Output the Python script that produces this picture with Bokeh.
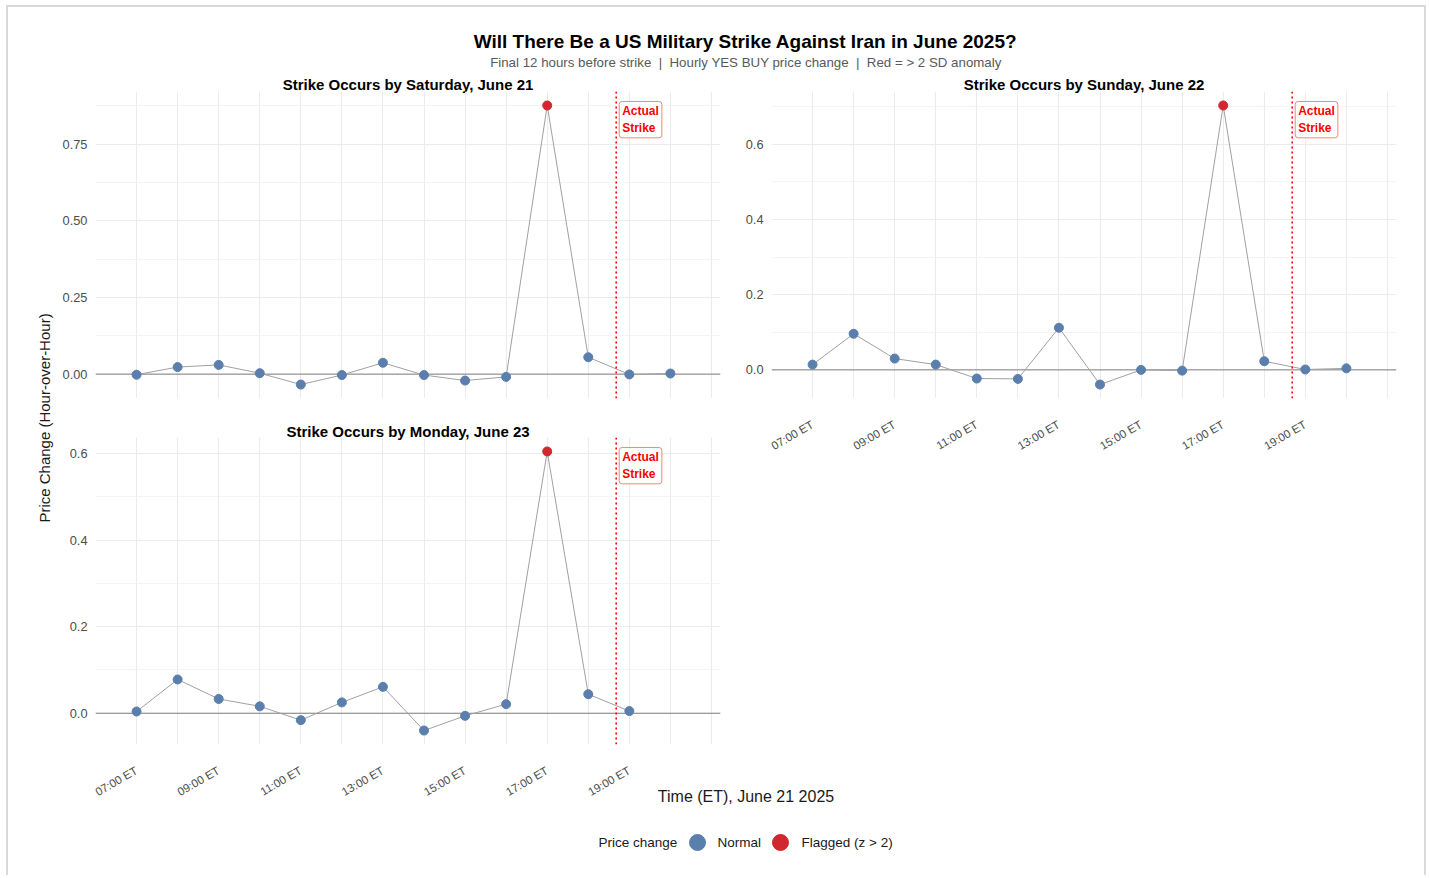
import math
import numpy as np
from bokeh.plotting import figure
from bokeh.models import Range1d, FixedTicker, Span, PrintfTickFormatter, ColumnDataSource
from bokeh.layouts import column, row
from bokeh.embed import file_html
from bokeh.resources import INLINE
from bokeh.core.properties import value

FONT = "Liberation Sans"

# ---------------- data ----------------
TITLE = "Will There Be a US Military Strike Against Iran in June 2025?"
SUBTITLE = "Final 12 hours before strike \u00a0|\u00a0 Hourly YES BUY price change \u00a0|\u00a0 Red = > 2 SD anomaly"
X_LABEL = "Time (ET), June 21 2025"
Y_LABEL = "Price Change (Hour-over-Hour)"
LEGEND_TITLE = "Price change"
LEGEND_LABELS = ["Normal", "Flagged (z > 2)"]
PANEL_TITLES = ["Strike Occurs by Saturday, June 21",
                "Strike Occurs by Sunday, June 22",
                "Strike Occurs by Monday, June 23"]

HOURS_SAT = [7, 8, 9, 10, 11, 12, 13, 14, 15, 16, 17, 18, 19, 20]
VALS_SAT = [-0.002, 0.023, 0.030, 0.003, -0.034, -0.003, 0.037, -0.003, -0.021, -0.009, 0.876, 0.055, -0.001, 0.002]

HOURS_SUN = [7, 8, 9, 10, 11, 12, 13, 14, 15, 16, 17, 18, 19, 20]
VALS_SUN = [0.014, 0.096, 0.030, 0.014, -0.023, -0.024, 0.112, -0.039, 0.000, -0.002, 0.703, 0.023, 0.001, 0.004]

HOURS_MON = [7, 8, 9, 10, 11, 12, 13, 14, 15, 16, 17, 18, 19]
VALS_MON = [0.004, 0.078, 0.033, 0.016, -0.016, 0.025, 0.061, -0.040, -0.006, 0.021, 0.605, 0.044, 0.005]

STRIKE_HOUR = 18.68
STRIKE_LABEL = "Actual\nStrike"

X_MAJOR = [7, 9, 11, 13, 15, 17, 19]
X_TICK_LABELS = ["07:00 ET", "09:00 ET", "11:00 ET", "13:00 ET", "15:00 ET", "17:00 ET", "19:00 ET"]
X_MINOR = [6, 8, 10, 12, 14, 16, 18, 20, 21]
X_LIMITS = (6.0, 21.22)

Y_TICKS_SAT = [0.0, 0.25, 0.5, 0.75]
Y_MINOR_SAT = [0.125, 0.375, 0.625, 0.875]
Y_TICKS_SUNMON = [0.0, 0.2, 0.4, 0.6]
Y_MINOR_SUNMON = [0.1, 0.3, 0.5, 0.7]

BLUE = "#5B7FAD"
RED = "#D1282F"
GRID = "#EBEBEB"
TICK_TXT = "#4D4D4D"


def make_panel(hours, vals, yticks, yminor, fmt, width, height, mbl, mbr, mbb, show_x):
    v = np.array(vals, dtype=float)
    z = (v - v.mean()) / v.std(ddof=1)
    colors = [RED if abs(zz) > 2 else BLUE for zz in z]
    lo, hi = float(v.min()), float(v.max())
    pad = 0.05 * (hi - lo)
    p = figure(width=width, height=height, output_backend="svg", toolbar_location=None,
               x_range=Range1d(*X_LIMITS), y_range=Range1d(lo - pad, hi + pad),
               min_border_left=mbl, min_border_right=mbr, min_border_top=0,
               min_border_bottom=mbb)
    p.outline_line_color = None
    p.background_fill_color = None
    p.border_fill_color = None

    p.xgrid.ticker = FixedTicker(ticks=X_MAJOR, minor_ticks=X_MINOR)
    p.xgrid.grid_line_color = GRID
    p.xgrid.grid_line_width = 1.1
    p.xgrid.minor_grid_line_color = GRID
    p.xgrid.minor_grid_line_width = 1.1
    p.ygrid.ticker = FixedTicker(ticks=yticks, minor_ticks=yminor)
    p.ygrid.grid_line_color = GRID
    p.ygrid.grid_line_width = 1.1
    p.ygrid.minor_grid_line_color = "#F1F1F1"
    p.ygrid.minor_grid_line_width = 0.8

    p.yaxis.ticker = FixedTicker(ticks=yticks)
    p.yaxis.formatter = PrintfTickFormatter(format=fmt)
    for ax in (p.xaxis[0], p.yaxis[0]):
        ax.axis_line_color = None
        ax.major_tick_line_color = None
        ax.minor_tick_line_color = None
        ax.major_tick_out = 0
        ax.major_tick_in = 0
        ax.minor_tick_out = 0
        ax.minor_tick_in = 0
        ax.major_label_text_color = TICK_TXT
        ax.major_label_text_font = FONT
    p.yaxis.major_label_text_font_size = "12.8px"
    p.yaxis.major_label_standoff = 8

    if show_x:
        p.xaxis.ticker = FixedTicker(ticks=X_MAJOR)
        p.xaxis.major_label_overrides = {h: lab for h, lab in zip(X_MAJOR, X_TICK_LABELS)}
        p.xaxis.major_label_orientation = math.pi / 6
        p.xaxis.major_label_text_font_size = "11.5px"
        p.xaxis.major_label_standoff = 25
    else:
        p.xaxis.visible = False

    p.add_layout(Span(location=0, dimension="width", line_color="#7F7F7F",
                      line_width=1, level="underlay"))
    src = ColumnDataSource(dict(x=hours, y=vals, c=colors))
    p.line("x", "y", source=src, line_color="#A0A0A0", line_width=1)
    p.scatter("x", "y", source=src, size=9, fill_color="c", line_color="c")
    p.add_layout(Span(location=STRIKE_HOUR, dimension="height", line_color="#FF0000",
                      line_width=1.6, line_dash="2 3"))
    p.text(x=[STRIKE_HOUR], y=[hi], text=[STRIKE_LABEL], anchor="top_left",
           x_offset=3, y_offset=-4, text_color="#FF0000", text_font=value(FONT),
           text_font_style="bold", text_font_size="12px", text_line_height=1.17,
           border_line_color="#FF8080", border_line_width=1,
           background_fill_color="white", padding=3, border_radius=3)
    return p


def canvas_fig(w, h, mbl=0, mbr=0):
    p = figure(width=w, height=h, x_range=Range1d(0, w - mbl - mbr), y_range=Range1d(0, h),
               output_backend="svg", toolbar_location=None, min_border=0,
               min_border_left=mbl, min_border_right=mbr,
               x_axis_type=None, y_axis_type=None)
    p.outline_line_color = None
    p.background_fill_color = None
    p.border_fill_color = None
    return p


def put_text(p, x, y, txt, size, color="#000000", style="normal", align="center",
             baseline="middle", angle=0.0):
    p.text(x=[x], y=[y], text=[txt], text_font=value(FONT), text_font_size=size,
           text_color=color, text_font_style=style, text_align=align,
           text_baseline=baseline, angle=angle)


W = 1416
MID_H = 717

# header (title, subtitle, top strip titles)
header = canvas_fig(W, 88)
put_text(header, 737, 54, TITLE, "19px", style="bold")
put_text(header, 737.5, 33, SUBTITLE, "13.3px", color="#595959")
put_text(header, 399.5, 11, PANEL_TITLES[0], "15px", style="bold")
put_text(header, 1075.5, 11, PANEL_TITLES[1], "15px", style="bold")

# shared y-axis title, drawn as the label of an otherwise empty axis
ylab = figure(width=48, height=MID_H, output_backend="svg", toolbar_location=None,
              x_axis_type=None, x_range=Range1d(0, 1), y_range=Range1d(0, 1),
              min_border_left=44, min_border_right=0, min_border_top=0,
              min_border_bottom=64)
ylab.outline_line_color = None
ylab.background_fill_color = None
ylab.border_fill_color = None
ylab.grid.visible = False
ylab.yaxis.ticker = FixedTicker(ticks=[])
ylab.yaxis.axis_line_color = None
ylab.yaxis.major_tick_out = 0
ylab.yaxis.major_tick_in = 0
ylab.yaxis.minor_tick_out = 0
ylab.yaxis.minor_tick_in = 0
ylab.yaxis.axis_label = Y_LABEL
ylab.yaxis.axis_label_standoff = 0
ylab.yaxis.axis_label_text_font = FONT
ylab.yaxis.axis_label_text_font_size = "15px"
ylab.yaxis.axis_label_text_font_style = "normal"
ylab.yaxis.axis_label_text_color = "#1A1A1A"

fig1 = make_panel(HOURS_SAT, VALS_SAT, Y_TICKS_SAT, Y_MINOR_SAT, "%.2f",
                  672, 326, 39, 8, 19, False)
strip3 = canvas_fig(672, 24, mbl=39, mbr=8)
put_text(strip3, 312.5, 10, PANEL_TITLES[2], "15px", style="bold")
fig3 = make_panel(HOURS_MON, VALS_MON, Y_TICKS_SUNMON, Y_MINOR_SUNMON, "%.1f",
                  672, 371, 39, 8, 64, True)
fig3.styles = {"margin-top": "-4px"}

fig2 = make_panel(HOURS_SUN, VALS_SUN, Y_TICKS_SUNMON, Y_MINOR_SUNMON, "%.1f",
                  696, 371, 43, 28, 64, True)
filler = canvas_fig(696, MID_H - 371, mbl=43, mbr=28)

left_col = column(fig1, strip3, fig3)
right_col = column(fig2, filler)
mid = row(ylab, left_col, right_col, styles={"margin-top": "-4px"})

# footer (x-axis title + legend)
footer = canvas_fig(W, 91)
footer.styles = {"margin-top": "-22px"}
put_text(footer, 737.5, 81, X_LABEL, "16px", color="#1A1A1A")
put_text(footer, 590, 35, LEGEND_TITLE, "13.5px", color="#1A1A1A", align="left")
footer.scatter(x=[689, 772], y=[35, 35], size=16, fill_color=[BLUE, RED], line_color=[BLUE, RED])
put_text(footer, 709, 35, LEGEND_LABELS[0], "13.5px", color="#1A1A1A", align="left")
put_text(footer, 793, 35, LEGEND_LABELS[1], "13.5px", color="#1A1A1A", align="left")

root = column(header, mid, footer,
              styles={"margin-left": "8px", "margin-top": "7px",
                      "box-shadow": "-2px -2px 0 0 #D9D9D9, 2px -2px 0 0 #D9D9D9"})

open("out.html", "w").write(file_html(root, INLINE))
